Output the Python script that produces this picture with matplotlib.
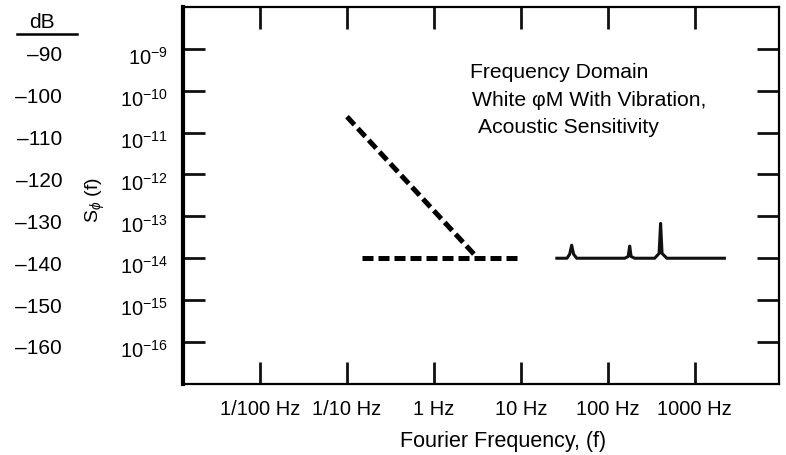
import matplotlib.pyplot as plt
from matplotlib.lines import Line2D
from matplotlib.transforms import ScaledTranslation, blended_transform_factory

plt.rcParams['font.family'] = ['Liberation Sans', 'DejaVu Sans']
plt.rcParams['mathtext.fontset'] = 'custom'
plt.rcParams['mathtext.rm'] = 'Liberation Sans'
plt.rcParams['mathtext.it'] = 'Liberation Sans:italic'
plt.rcParams['mathtext.bf'] = 'Liberation Sans:bold'

# x axis: Fourier frequency decades
freq_ticks = [0.01, 0.1, 1, 10, 100, 1000]
freq_labels = ['1/100 Hz', '1/10 Hz', '1 Hz', '10 Hz', '100 Hz', '1000 Hz']

# y axis: S_phi(f) decades and the matching dB column
sphi_ticks = [1e-9, 1e-10, 1e-11, 1e-12, 1e-13, 1e-14, 1e-15, 1e-16]
sphi_labels = [r'$10^{-9}$', r'$10^{-10}$', r'$10^{-11}$', r'$10^{-12}$',
               r'$10^{-13}$', r'$10^{-14}$', r'$10^{-15}$', r'$10^{-16}$']
db_labels = [-90, -100, -110, -120, -130, -140, -150, -160]

# dashed asymptotes (vibration slope and white phase floor)
slope_f = [0.1, 3.2]
slope_s = [2.4e-11, 1.0e-14]
floor_f = [0.148, 10]
floor_s = [1e-14, 1e-14]

# measured spectrum with acoustic / vibration lines
spec_f = [26, 34, 36.5, 38.5, 40.5, 44, 157, 172, 179, 186, 204,
          347, 390, 406, 422, 479, 2200]
spec_s = [1e-14, 1e-14, 1.25e-14, 2.05e-14, 1.25e-14, 1e-14, 1e-14, 1.1e-14,
          1.95e-14, 1.1e-14, 1e-14, 1e-14, 1.3e-14, 6.8e-14, 1.3e-14, 1e-14, 1e-14]

fig = plt.figure(figsize=(7.86, 4.56), dpi=100)
ax = fig.add_axes([0.233, 0.156, 0.758, 0.8265])

ax.loglog(slope_f, slope_s, color='black', lw=3.6, ls=(0, (2.2, 1.0)),
          solid_capstyle='butt')
ax.loglog(floor_f, floor_s, color='black', lw=3.6, ls=(0, (2.2, 1.0)))
ax.loglog(spec_f, spec_s, color='#111111', lw=2.2)

ax.set_xlim(10 ** -2.885, 10 ** 3.97)
ax.set_ylim(1e-17, 1e-8)

ax.set_xticks(freq_ticks)
ax.set_xticklabels(freq_labels, fontsize=14.5)
ax.set_yticks(sphi_ticks)
ax.set_yticklabels(sphi_labels, fontsize=14.5)
ax.minorticks_off()
ax.tick_params(axis='both', which='major', direction='in', length=16, width=2,
               top=True, right=True, color='#111111')
ax.tick_params(axis='x', pad=11)
ax.tick_params(axis='y', pad=11)

for side in ['top', 'right', 'bottom']:
    ax.spines[side].set_linewidth(1.6)
ax.spines['left'].set_linewidth(3)

# tick labels sit slightly below their ticks in the original
shift = ScaledTranslation(0, -6 / 100, fig.dpi_scale_trans)
for lab in ax.get_yticklabels():
    lab.set_transform(lab.get_transform() + shift)

# dB column
trans = blended_transform_factory(ax.transAxes, ax.transData)
for db in db_labels:
    ax.text(-0.203, 10 ** (db / 10), '\u2013' + str(abs(db)), ha='right', va='center',
            fontsize=15, transform=trans + shift, clip_on=False)
fig.text(42 / 786, 1 - 22 / 456, 'dB', ha='center', va='center', fontsize=15)
fig.add_artist(Line2D([17 / 786, 77 / 786], [1 - 35 / 456, 1 - 35 / 456],
                      color='black', lw=1.8, transform=fig.transFigure))

fig.text(95 / 786, 1 - 200 / 456, r'$\mathrm{S}_{\phi}$ (f)', rotation=90,
         ha='center', va='center', fontsize=14)

ax.set_xlabel('Fourier Frequency, (f)', fontsize=15.5)
ax.xaxis.set_label_coords(0.537, -0.122)

ax.text(0.4815, 0.8276, 'Frequency Domain', transform=ax.transAxes,
        fontsize=15.2, va='center', ha='left')
ax.text(0.485, 0.7533, 'White \u03c6M With Vibration,', transform=ax.transAxes,
        fontsize=15.2, va='center', ha='left')
ax.text(0.495, 0.6817, 'Acoustic Sensitivity', transform=ax.transAxes,
        fontsize=15.2, va='center', ha='left')

fig.savefig('out.png', dpi=100)
